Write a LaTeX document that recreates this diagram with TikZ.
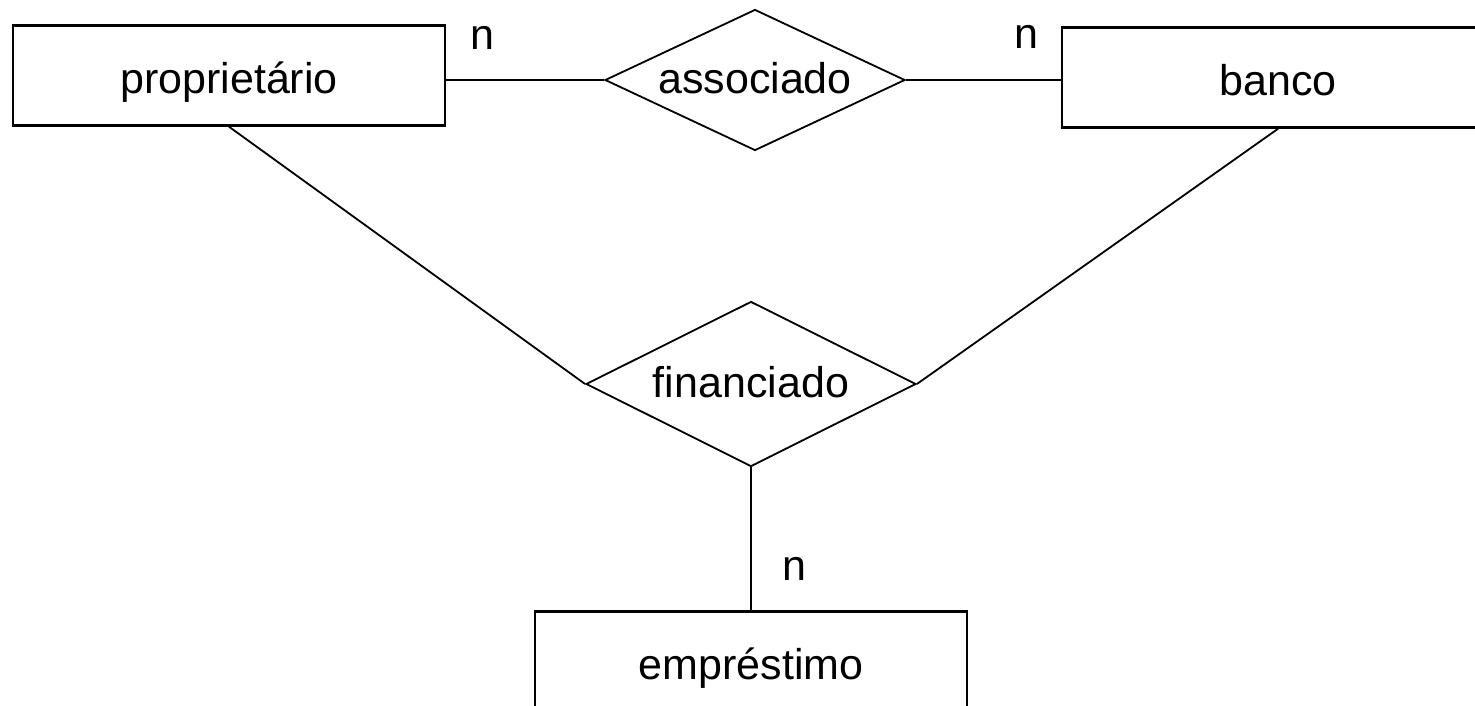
\documentclass[tikz,border=0pt]{standalone}
\usepackage{fontspec}
\setmainfont{Liberation Sans}
\usetikzlibrary{positioning,shapes.geometric}

\begin{document}
\begin{tikzpicture}[
    x=1pt,
    y=-1pt,
    line width=1.8pt,
    font=\fontsize{43}{50}\selectfont
]

\useasboundingbox (0,0) rectangle (1475,705);
\clip (0,0) rectangle (1475,705);


\tikzstyle{entity}=[
    rectangle,
    draw,
    line width=2.4pt,
    minimum width=432pt,
    minimum height=100pt,
    text height=35pt,
    text depth=0pt
]

\tikzstyle{relation}=[
    diamond,
    draw,
    aspect=2.1,
    inner sep=0pt,
    text height=27pt,
    text depth=0pt
]

\tikzstyle{card}=[anchor=base]


\node[entity] (prop) at (229,75.5) {proprietário};
\node[relation, minimum width=300pt, minimum height=141pt] (assoc) at (755,80) {associado};
\node[entity, right=155pt of assoc, yshift=2.5pt] (banco) {banco};
\node[relation, minimum width=330pt, minimum height=165pt] (fin) at (751,384) {financiado};
\node[entity, below=143pt of fin] (emp) {empréstimo};


\draw (assoc.west) -- (assoc.west -| prop.east);
\draw (assoc.east) -- (assoc.east -| banco.west);
\draw (prop.south) -- (fin.west);
\draw (banco.south) -- (fin.east);
\draw (fin.south) -- (emp.north);


\node[card] (n1) at ([shift={(36,25)}]prop.north east) {n};
\node[card] (n2) at ([shift={(-34,22)}]banco.north west) {n};
\node[card] (n3) at ([shift={(43,-30)}]emp.north) {n};

\end{tikzpicture}
\end{document}
